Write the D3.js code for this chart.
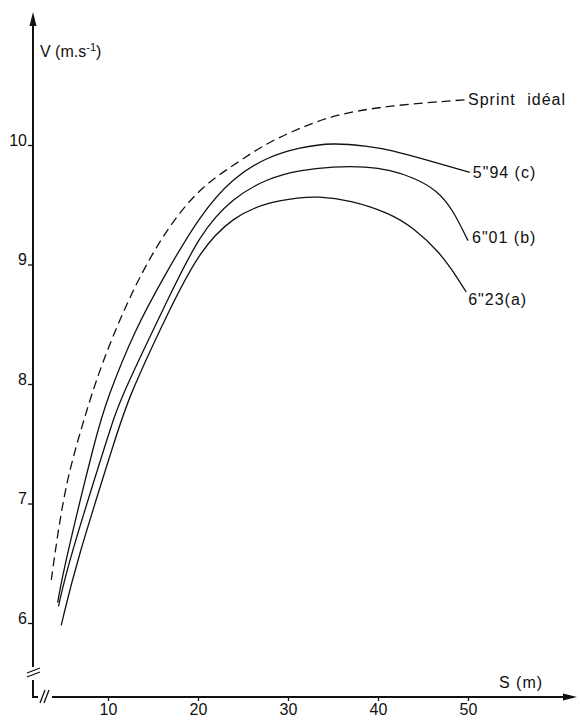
<!DOCTYPE html>
<html>
<head>
<meta charset="utf-8">
<script src="https://cdn.jsdelivr.net/npm/d3@7"></script>
<style>
  body { margin: 0; background: #fff; }
  text { font-family: "Liberation Sans", Arial, sans-serif; fill: #111; }
</style>
</head>
<body>
<div id="viz"></div>
<script>

var width = 581;
var height = 722;

// distance (m) / speed (m/s)
var sIdeal = [3.7, 4.3, 5.4, 7.2, 9.1, 12.8, 16.6, 20.2, 23.9, 27.7, 31.3, 35, 41, 50];
var vIdeal = [6.36, 6.69, 7.2, 7.67, 8.14, 8.81, 9.31, 9.64, 9.83, 10.02, 10.14, 10.25, 10.33, 10.38];

var sC = [4.4, 5.2, 8.8, 9.9, 12.8, 16.6, 20.2, 23.9, 27.7, 31.3, 35, 38.8, 41.3, 45.6, 50.2];
var vC = [6.17, 6.5, 7.61, 7.87, 8.43, 8.95, 9.41, 9.73, 9.90, 9.98, 10.02, 9.99, 9.96, 9.87, 9.77];

var sB = [4.5, 5.56, 10.2, 11.3, 16.6, 20.2, 23.9, 27.7, 31.3, 35, 38.8, 41.3, 43.9, 46.6, 48.3, 50];
var vB = [6.14, 6.5, 7.61, 7.87, 8.70, 9.26, 9.56, 9.72, 9.79, 9.82, 9.82, 9.79, 9.73, 9.62, 9.46, 9.2];

var sA = [4.8, 6.44, 11.1, 12.2, 16.6, 20.2, 23.9, 27.7, 31.3, 33.2, 36.9, 41.3, 43.9, 46.9, 48.8, 49.8];
var vA = [5.98, 6.5, 7.61, 7.87, 8.59, 9.12, 9.40, 9.52, 9.56, 9.57, 9.54, 9.43, 9.31, 9.10, 8.89, 8.77];

var seriesNames = ["Sprint idéal", "5\"94 (c)", "6\"01 (b)", "6\"23(a)"];
var xTicks = [10, 20, 30, 40, 50];
var yTicks = [6, 7, 8, 9, 10];

var svg = d3.select("#viz").append("svg")
   .attr("width", width)
   .attr("height", height);

svg.append("rect").attr("width", width).attr("height", height).attr("fill", "#fff");

var x = d3.scaleLinear().domain([0, 50]).range([18, 468]);
var y = d3.scaleLinear().domain([6, 10]).range([623, 145]);

var axisX = 33;   // where the vertical axis sits
var axisY = 697;  // where the horizontal axis sits

// Axes //

var yAxis = svg.append("g")
   .attr("transform", "translate(" + axisX + ",0)")
   .call(d3.axisLeft(y).tickValues(yTicks).tickSize(5).tickPadding(1).tickFormat(d3.format("d")));
yAxis.select(".domain").remove();
yAxis.selectAll("line").attr("stroke", "#111").attr("stroke-width", 1.3);
yAxis.selectAll("text").attr("dy", "0").style("font-size", "16px");

var xAxis = svg.append("g")
   .attr("transform", "translate(0," + axisY + ")")
   .call(d3.axisBottom(x).tickValues(xTicks).tickSize(4).tickPadding(3).tickFormat(d3.format("d")));
xAxis.select(".domain").remove();
xAxis.selectAll("line").attr("stroke", "#111").attr("stroke-width", 1.3);
xAxis.selectAll("text").style("font-size", "16px");

var axisLines = svg.append("g")
   .attr("stroke", "#111")
   .attr("stroke-width", 2)
   .attr("fill", "none");

// vertical axis, broken near the bottom
axisLines.append("line").attr("x1", axisX).attr("x2", axisX).attr("y1", 20).attr("y2", 667);
axisLines.append("path").attr("d", "M" + axisX + ",680 V" + axisY + " H38");
axisLines.append("line").attr("x1", 27).attr("y1", 673).attr("x2", 40).attr("y2", 668).attr("stroke-width", 1.3);
axisLines.append("line").attr("x1", 27).attr("y1", 677).attr("x2", 40).attr("y2", 672).attr("stroke-width", 1.3);

// horizontal axis, broken near the corner
axisLines.append("line").attr("x1", 40).attr("y1", 703).attr("x2", 45).attr("y2", 690).attr("stroke-width", 1.3);
axisLines.append("line").attr("x1", 44).attr("y1", 703).attr("x2", 49).attr("y2", 690).attr("stroke-width", 1.3);
axisLines.append("line").attr("x1", 52).attr("x2", 568).attr("y1", axisY).attr("y2", axisY);

// arrow heads
svg.append("path").attr("d", "M" + axisX + ",12 L" + (axisX - 3.5) + ",26 L" + (axisX + 3.5) + ",26 Z").attr("fill", "#111");
svg.append("path").attr("d", "M577," + axisY + " L563," + (axisY - 3.5) + " L563," + (axisY + 3.5) + " Z").attr("fill", "#111");

// axis titles
var vLabel = svg.append("text").attr("x", 40).attr("y", 57).style("font-size", "16px");
vLabel.append("tspan").text("V (m.s");
vLabel.append("tspan").attr("dy", -6).style("font-size", "11px").text("-1");
vLabel.append("tspan").attr("dy", 6).text(")");

svg.append("text").attr("x", 499).attr("y", 688).style("font-size", "16px")
   .style("letter-spacing", "1px").text("S (m)");

// Curves //

var line = d3.line()
   .x(function(d) { return x(d[0]); })
   .y(function(d) { return y(d[1]); })
   .curve(d3.curveBasis);

var series = [
   { name: seriesNames[0], s: sIdeal, v: vIdeal, dash: "9,5", dx: 0, dy: 0, ws: 6 },
   { name: seriesNames[1], s: sC, v: vC, dash: null, dx: 3, dy: 0, ws: 0 },
   { name: seriesNames[2], s: sB, v: vB, dash: null, dx: 4, dy: -3, ws: 0 },
   { name: seriesNames[3], s: sA, v: vA, dash: null, dx: 2, dy: 7, ws: 0 }
];

series.forEach(function(sr) {
   var pts = d3.zip(sr.s, sr.v);
   svg.append("path")
      .datum(pts)
      .attr("d", line)
      .attr("fill", "none")
      .attr("stroke", "#111")
      .attr("stroke-width", 1.3)
      .attr("stroke-dasharray", sr.dash);
   var last = pts[pts.length - 1];
   svg.append("text")
      .attr("x", x(last[0]) + sr.dx)
      .attr("y", y(last[1]) + sr.dy)
      .attr("dy", "0.35em")
      .style("font-size", "16px")
      .style("letter-spacing", "1px")
      .style("word-spacing", sr.ws + "px")
      .text(sr.name);
});

</script>
</body>
</html>
